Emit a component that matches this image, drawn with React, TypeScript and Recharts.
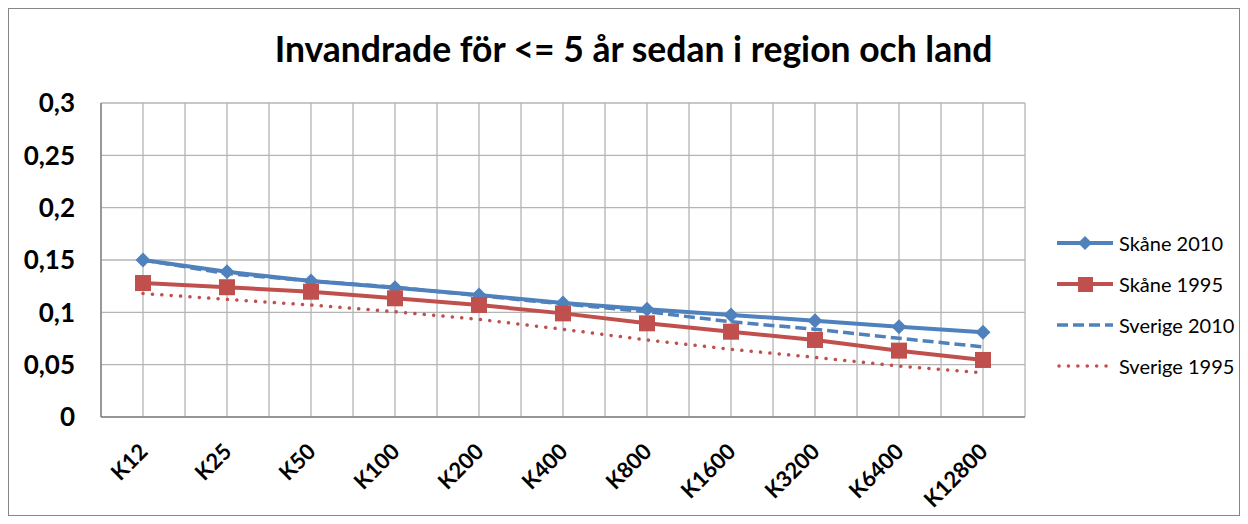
import { LineChart, Line, XAxis, YAxis, CartesianGrid } from "recharts";

const categories = ["K12", "K25", "K50", "K100", "K200", "K400", "K800", "K1600", "K3200", "K6400", "K12800"];
const skane2010 = [0.15, 0.1388, 0.13, 0.1235, 0.1166, 0.109, 0.103, 0.0975, 0.092, 0.0863, 0.081];
const skane1995 = [0.128, 0.124, 0.1197, 0.1134, 0.107, 0.099, 0.0895, 0.0815, 0.0736, 0.0634, 0.0545];
const sverige2010 = [0.15, 0.137, 0.13, 0.124, 0.116, 0.108, 0.1006, 0.091, 0.0838, 0.0752, 0.067];
const sverige1995 = [0.118, 0.1124, 0.107, 0.1006, 0.0933, 0.0838, 0.0736, 0.0647, 0.057, 0.0487, 0.0423];
const yTicks = [0, 0.05, 0.1, 0.15, 0.2, 0.25, 0.3];

const BLUE = "#4F81BD";
const RED = "#C0504D";
const FONT = "Lato, 'Open Sans', sans-serif";

const data = categories.map((c, i) => ({
  cat: c,
  s10: skane2010[i],
  s95: skane1995[i],
  v10: sverige2010[i],
  v95: sverige1995[i],
}));

const Diamond = (p: any) => {
  const { cx, cy } = p;
  if (cx == null || cy == null) return null;
  const r = 7.5;
  return <polygon points={`${cx},${cy - r} ${cx + r},${cy} ${cx},${cy + r} ${cx - r},${cy}`} fill={BLUE} />;
};

const Square = (p: any) => {
  const { cx, cy } = p;
  if (cx == null || cy == null) return null;
  return <rect x={cx - 8} y={cy - 8} width={16} height={16} fill={RED} />;
};

const XTick = ({ x, y, payload }: any) => (
  <g transform={`translate(${x + 6},${y + 28})`}>
    <text transform="rotate(-45)" textAnchor="end" fontFamily={FONT} fontWeight="bold" fontSize={22} fill="#000">
      {payload.value}
    </text>
  </g>
);

const legendItems = [
  { label: "Skåne 2010", color: BLUE, kind: "diamond" },
  { label: "Skåne 1995", color: RED, kind: "square" },
  { label: "Sverige 2010", color: BLUE, kind: "dash" },
  { label: "Sverige 1995", color: RED, kind: "dot" },
];

const LegendBox = () => (
  <div style={{ position: "absolute", left: 1048, top: 213, width: 182, fontFamily: FONT, fontSize: 20 }}>
    {legendItems.map((it) => (
      <div key={it.label} style={{ display: "flex", alignItems: "center", height: 41, whiteSpace: "nowrap" }}>
        <svg width={62} height={20} style={{ flexShrink: 0 }}>
          {it.kind === "diamond" && (
            <>
              <line x1={0} y1={10} x2={56} y2={10} stroke={it.color} strokeWidth={4} />
              <polygon points="28,3 35,10 28,17 21,10" fill={it.color} />
            </>
          )}
          {it.kind === "square" && (
            <>
              <line x1={0} y1={10} x2={56} y2={10} stroke={it.color} strokeWidth={4} />
              <rect x={21} y={3} width={15} height={15} fill={it.color} />
            </>
          )}
          {it.kind === "dash" && (
            <line x1={0} y1={10} x2={56} y2={10} stroke={it.color} strokeWidth={3.5} strokeDasharray="11 5" />
          )}
          {it.kind === "dot" && (
            <line x1={2} y1={10} x2={56} y2={10} stroke={it.color} strokeWidth={3.5} strokeDasharray="0.1 9.3" strokeLinecap="round" />
          )}
        </svg>
        <span style={{ color: "#000" }}>{it.label}</span>
      </div>
    ))}
  </div>
);

export default function App() {
  return (
    <div style={{ width: 1232, height: 508, border: "1px solid #868686", boxSizing: "border-box", position: "relative", background: "#fff" }}>
      <div style={{ position: "absolute", left: 0, right: 0, top: 18, textAlign: "center", fontFamily: FONT, fontWeight: "bold", fontSize: 35.5, color: "#000", marginLeft: 19 }}>
        Invandrade för &lt;= 5 år sedan i region och land
      </div>
      <LineChart width={1230} height={506} data={data} margin={{ top: 94, right: 214, bottom: 0, left: 0 }}>
        <CartesianGrid
          stroke="#b4b4b4"
          strokeWidth={1.3}
          verticalCoordinatesGenerator={({ offset }: any) =>
            Array.from({ length: 23 }, (_, i) => offset.left + (i * offset.width) / 22)
          }
        />
        <XAxis
          dataKey="cat"
          interval={0}
          padding={{ left: 42, right: 42 }}
          height={98}
          tickLine={false}
          axisLine={{ stroke: "#868686", strokeWidth: 1.5 }}
          tick={<XTick />}
        />
        <YAxis
          width={92}
          domain={[0, 0.3]}
          ticks={yTicks}
          interval={0}
          tickLine={false}
          tickMargin={20}
          axisLine={{ stroke: "#868686", strokeWidth: 1.5 }}
          tickFormatter={(v: number) => String(v).replace(".", ",")}
          tick={{ fontFamily: FONT, fontWeight: "bold", fontSize: 26, fill: "#000" }}
        />
        <Line dataKey="s10" name="Skåne 2010" stroke={BLUE} strokeWidth={4} dot={<Diamond />} isAnimationActive={false} />
        <Line dataKey="s95" name="Skåne 1995" stroke={RED} strokeWidth={4} dot={<Square />} isAnimationActive={false} />
        <Line dataKey="v10" name="Sverige 2010" stroke={BLUE} strokeWidth={3.5} strokeDasharray="11 5" dot={false} isAnimationActive={false} />
        <Line dataKey="v95" name="Sverige 1995" stroke={RED} strokeWidth={3.5} strokeDasharray="0.1 9.3" strokeLinecap="round" dot={false} isAnimationActive={false} />
      </LineChart>
      <LegendBox />
    </div>
  );
}
